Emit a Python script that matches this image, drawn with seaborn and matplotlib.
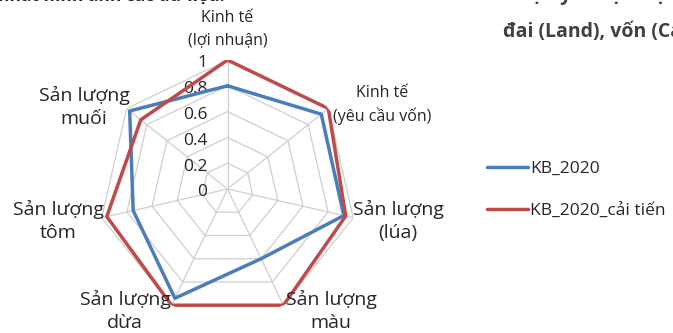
import numpy as np
import matplotlib
matplotlib.use("Agg")
import matplotlib.pyplot as plt
from matplotlib.lines import Line2D
import seaborn as sns

# Radar axes (clockwise from the top)
categories = [
    "Kinh tế\n(lợi nhuận)",
    "Kinh tế\n(yêu cầu vốn)",
    "Sản lượng\n(lúa)",
    "Sản lượng\nmàu",
    "Sản lượng\ndừa",
    "Sản lượng\ntôm",
    "Sản lượng\nmuối",
]
kb_2020 = [0.80, 0.93, 0.925, 0.60, 0.94, 0.75, 0.97]
kb_2020_cai_tien = [1.00, 1.00, 0.94, 1.00, 1.00, 0.96, 0.86]
series_names = ["KB_2020", "KB_2020_cải tiến"]
r_ticks = [0, 0.2, 0.4, 0.6, 0.8, 1.0]
r_tick_labels = ["0", "0.2", "0.4", "0.6", "0.8", "1"]

BLUE = "#4A7EBB"
RED = "#BE4B48"
GRID = "#CFCFCF"
TEXT = "#262626"

sns.set_theme(style="white")
plt.rcParams["font.family"] = ["Open Sans", "DejaVu Sans"]

W, H = 673, 333
fig = plt.figure(figsize=(W / 100, H / 100), dpi=100)


def fx(x):
    return x / W


def fy(y):
    return 1 - y / H


# polar axes: centre at (227.5, 189) px, radius 129 px
cx, cy, R = 227.5, 189, 129
ax = fig.add_axes([fx(cx - R), fy(cy + R), 2 * R / W, 2 * R / H], projection="polar")
ax.set_theta_offset(np.pi / 2)
ax.set_theta_direction(-1)
ax.set_ylim(0, 1)
ax.grid(False)
ax.spines["polar"].set_visible(False)
ax.set_xticks([])
ax.set_yticks([])
ax.patch.set_alpha(0)

n = len(categories)
theta = np.linspace(0, 2 * np.pi, n, endpoint=False)
theta_closed = np.append(theta, theta[0])

# heptagonal grid
for v in r_ticks[1:]:
    ax.plot(theta_closed, [v] * (n + 1), color=GRID, lw=0.9, zorder=1)
for t in theta:
    ax.plot([t, t], [0, r_ticks[-1]], color=GRID, lw=0.9, zorder=1)

# radial tick labels along the top spoke
for v, lab in zip(r_ticks, r_tick_labels):
    ax.annotate(lab, xy=(0, v), xytext=(-14.5, -2.5), textcoords="offset points",
                ha="right", va="center", fontsize=12.5, color=TEXT, zorder=2)

# data series
for vals, name, col in zip([kb_2020, kb_2020_cai_tien], series_names, [BLUE, RED]):
    r_closed = np.append(vals, vals[0])
    sns.lineplot(x=theta_closed, y=r_closed, sort=False, estimator=None,
                 color=col, lw=2.5, ax=ax, zorder=3)
ax.set_xlabel("")
ax.set_ylabel("")

# category labels
label_pos = [(227.5, 29), (382, 105), (398, 221), (331, 311), (125, 311), (58, 221), (84, 107)]
label_size = [11.5, 11.5, 14, 14, 14, 14, 14]
label_spacing = [1.55, 1.55, 1.32, 1.32, 1.32, 1.32, 1.32]
for lab, (x, y), fs, ls in zip(categories, label_pos, label_size, label_spacing):
    fig.text(fx(x), fy(y), lab, ha="center", va="center", multialignment="center",
             fontsize=fs, color=TEXT, linespacing=ls)

# legend
handles = [Line2D([], [], color=BLUE, lw=2.5), Line2D([], [], color=RED, lw=2.5)]
fig.legend(handles, series_names, loc="upper left", bbox_to_anchor=(fx(487), fy(161)),
           frameon=False, fontsize=12.5, handlelength=2.35, handletextpad=0.15,
           labelspacing=1.5, borderpad=0, borderaxespad=0, labelcolor=TEXT)

# surrounding page text
fig.text(fx(-2), fy(-4), "nhất hình ảnh các dữ liệu:", ha="left", va="center",
         fontsize=12.5, fontweight="bold", color=TEXT)
fig.text(fx(448), fy(-6), "2. Mức độ kỹ thuật hiện đại về Lao động",
         ha="left", va="center", fontsize=14, fontweight="bold", color="#404040")
fig.text(fx(503), fy(31), "đai (Land), vốn (Capital)", ha="left", va="center",
         fontsize=14, fontweight="bold", color="#404040")

fig.savefig("out.png", dpi=100)
